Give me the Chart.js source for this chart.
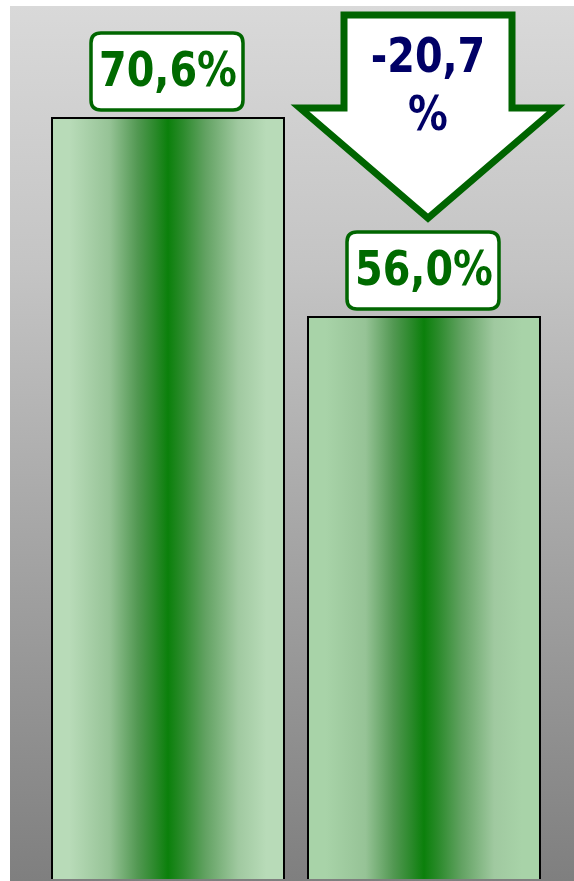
<!DOCTYPE html>
<html>
<head>
<meta charset="utf-8">
<script src="https://cdn.jsdelivr.net/npm/chart.js@4/dist/chart.umd.min.js"></script>
<style>
  html, body { margin: 0; padding: 0; background: #fff; }
  #wrap { width: 574px; height: 881px; }
</style>
</head>
<body>
<div id="wrap"><canvas id="myChart"></canvas></div>
<script>
// dados do gráfico
const categorias = ['Antes', 'Depois'];
const valores = [70.6, 56.0];
const rotulos = ['70,6%', '56,0%'];
const variacao = ['-20,7', '%'];

const eixoMin = 14.7;
const eixoMax = 78.75;
const larguraBarra = 0.914;

const ctx = document.getElementById('myChart').getContext('2d');

// gradiente horizontal para cada barra
function gradienteBarra(context) {
  const chart = context.chart;
  const xs = chart.scales && chart.scales.x;
  if (!chart.chartArea || !xs || context.dataIndex === undefined) return '#108010';
  const centro = xs.getPixelForValue(context.dataIndex);
  const w = (xs.width / categorias.length) * larguraBarra;
  if (!isFinite(centro) || !isFinite(w)) return '#108010';
  const x0 = centro - w / 2;
  const g = chart.ctx.createLinearGradient(x0, 0, x0 + w, 0);
  const borda = context.dataIndex === 0 ? '#b8dbb8' : '#a8d3a8';
  g.addColorStop(0, borda);
  g.addColorStop(0.08, borda);
  g.addColorStop(0.25, '#96c396');
  g.addColorStop(0.37, '#529852');
  g.addColorStop(0.45, '#288828');
  g.addColorStop(0.5, '#0b800b');
  g.addColorStop(0.56, '#2a8a2a');
  g.addColorStop(0.66, '#62a262');
  g.addColorStop(0.8, '#a0c9a0');
  g.addColorStop(0.92, borda);
  g.addColorStop(1, borda);
  return g;
}

function caixaArredondada(c, x, y, w, h, r) {
  c.beginPath();
  c.moveTo(x + r, y);
  c.lineTo(x + w - r, y);
  c.quadraticCurveTo(x + w, y, x + w, y + r);
  c.lineTo(x + w, y + h - r);
  c.quadraticCurveTo(x + w, y + h, x + w - r, y + h);
  c.lineTo(x + r, y + h);
  c.quadraticCurveTo(x, y + h, x, y + h - r);
  c.lineTo(x, y + r);
  c.quadraticCurveTo(x, y, x + r, y);
  c.closePath();
}

// texto um pouco mais estreito, parecido com o original
function textoEstreito(c, txt, x, y) {
  c.save();
  c.translate(x, y);
  c.scale(0.92, 1);
  c.fillText(txt, 0, 0);
  c.restore();
}

const fundo = {
  id: 'fundo',
  beforeDraw(chart) {
    const c = chart.ctx;
    const g = c.createLinearGradient(0, 6, 0, chart.height);
    g.addColorStop(0, '#d9d9d9');
    g.addColorStop(0.3, '#c4c4c4');
    g.addColorStop(1, '#7f7f7f');
    c.save();
    c.fillStyle = g;
    c.fillRect(10, 6, chart.width - 10, chart.height - 6);
    c.restore();
  }
};

const rotulosPlugin = {
  id: 'rotulos',
  afterDatasetsDraw(chart) {
    const c = chart.ctx;
    const meta = chart.getDatasetMeta(0);
    c.save();
    c.font = 'bold 48px "DejaVu Sans Condensed", "DejaVu Sans", sans-serif';
    c.textAlign = 'center';
    c.textBaseline = 'middle';
    meta.data.forEach((bar, i) => {
      const bw = 152, bh = 77;
      const bx = bar.x - bw / 2 - 1;
      const by = bar.y - 7 - bh;
      caixaArredondada(c, bx, by, bw, bh, 10);
      c.fillStyle = '#ffffff';
      c.fill();
      c.lineWidth = 3.5;
      c.strokeStyle = '#006600';
      c.stroke();
      c.fillStyle = '#006a00';
      textoEstreito(c, rotulos[i], bar.x, by + bh / 2 + 2);
    });

    // seta de variação
    const b2 = meta.data[1];
    const cx = b2.x + 4;
    const ponta = b2.y - 7 - 77 - 14;
    const topo = 15;
    const asa = ponta - 110;
    c.beginPath();
    c.moveTo(cx - 84, topo);
    c.lineTo(cx + 84, topo);
    c.lineTo(cx + 84, asa);
    c.lineTo(cx + 128, asa);
    c.lineTo(cx, ponta);
    c.lineTo(cx - 128, asa);
    c.lineTo(cx - 84, asa);
    c.closePath();
    c.fillStyle = '#ffffff';
    c.fill();
    c.lineWidth = 7;
    c.lineJoin = 'miter';
    c.strokeStyle = '#006400';
    c.stroke();
    c.fillStyle = '#000066';
    textoEstreito(c, variacao[0], cx, 60);
    textoEstreito(c, variacao[1], cx, 118);
    c.restore();
  }
};

new Chart(ctx, {
  type: 'bar',
  data: {
    labels: categorias,
    datasets: [{
      data: valores,
      backgroundColor: gradienteBarra,
      borderColor: '#000000',
      borderWidth: 2,
      borderSkipped: false,
      barPercentage: larguraBarra,
      categoryPercentage: 1
    }]
  },
  options: {
    responsive: true,
    maintainAspectRatio: false,
    animation: false,
    layout: { padding: { left: 40, right: 22, top: 6, bottom: 2 } },
    scales: {
      x: { display: false },
      y: { display: false, min: eixoMin, max: eixoMax }
    },
    plugins: {
      legend: { display: false },
      tooltip: { enabled: false }
    }
  },
  plugins: [fundo, rotulosPlugin]
});
</script>
</body>
</html>
